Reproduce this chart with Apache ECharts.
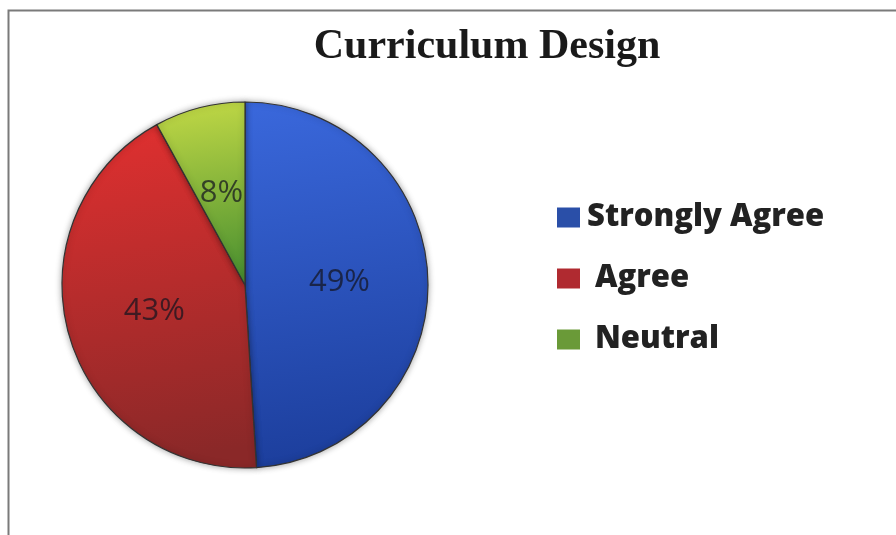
<!DOCTYPE html>
<html>
<head>
<meta charset="utf-8">
<script src="https://cdn.jsdelivr.net/npm/echarts@6/dist/echarts.min.js"></script>
<style>html,body{margin:0;padding:0;background:#fff}#c{width:896px;height:535px}</style>
</head>
<body>
<div id="c"></div>
<script>
var titleText = 'Curriculum Design';
var categories = ['Strongly Agree', 'Agree', 'Neutral'];
var values = [49, 43, 8];
var topColors = ['#3a68dc', '#e23030', '#c4da46'];
var bottomColors = ['#1c3e9c', '#8a2828', '#4a9030'];
var legendColors = ['#2a4fa8', '#b02a30', '#6a9a38'];

var chart = echarts.init(document.getElementById('c'));
var data = categories.map(function (name, i) {
  return {
    name: name,
    value: values[i],
    itemStyle: {
      color: {
        type: 'linear', x: 0, y: 0, x2: 0.3, y2: 1,
        colorStops: [{ offset: 0, color: topColors[i] }, { offset: 1, color: bottomColors[i] }]
      }
    }
  };
});
var legendFont = { fontFamily: 'Open Sans', fontWeight: 800, fontSize: 31, color: '#222' };
chart.setOption({
  backgroundColor: '#fff',
  animation: false,
  title: {
    text: titleText,
    left: 482,
    top: 21,
    textAlign: 'center',
    textStyle: { fontFamily: 'Liberation Serif', fontWeight: 'bold', fontSize: 42, color: '#1a1a1a' }
  },
  legend: {
    orient: 'vertical',
    left: 552,
    top: 197,
    itemWidth: 23,
    itemHeight: 20,
    itemGap: 30,
    icon: 'rect',
    data: categories.map(function (c, i) {
      return { name: c, itemStyle: { color: legendColors[i], borderWidth: 0 } };
    }),
    formatter: function (name) {
      return name === categories[0] ? '{a|' + name + '}' : '{b|' + name + '}';
    },
    textStyle: Object.assign({}, legendFont, {
      rich: {
        a: Object.assign({}, legendFont, { padding: [0, 0, 0, 2] }),
        b: Object.assign({}, legendFont, { padding: [0, 0, 0, 10] })
      }
    })
  },
  graphic: [{
    type: 'rect',
    shape: { x: 8.5, y: 10.5, width: 900, height: 540 },
    style: { fill: 'none', stroke: '#7a7a7a', lineWidth: 2 },
    silent: true
  }],
  series: [{
    type: 'pie',
    center: [245, 285],
    radius: [0, 183],
    startAngle: 90,
    clockwise: true,
    data: data,
    itemStyle: { borderColor: '#333', borderWidth: 1.2, shadowBlur: 6, shadowColor: 'rgba(0,0,0,0.35)' },
    label: {
      show: true,
      position: 'inside',
      formatter: '{d}%',
      fontFamily: 'Open Sans',
      fontSize: 31,
      color: 'rgba(20,20,30,0.72)'
    },
    labelLine: { show: false },
    emphasis: { disabled: true }
  }]
});
</script>
</body>
</html>
